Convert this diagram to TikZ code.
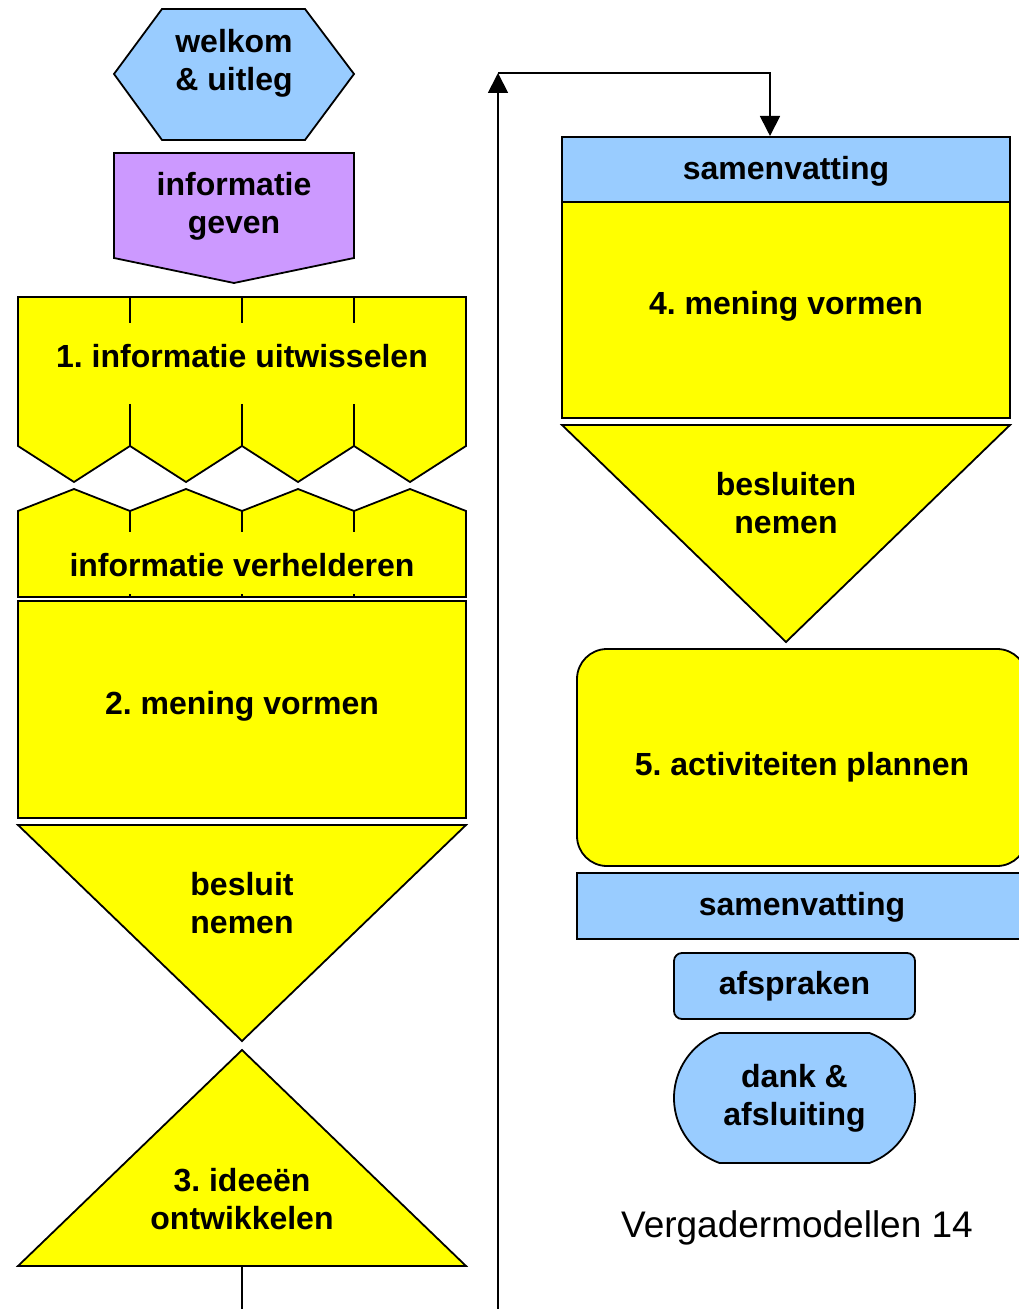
\documentclass[tikz,border=0pt]{standalone}
\usepackage{fontspec}
\setmainfont{Liberation Sans}
\frenchspacing
\usetikzlibrary{shapes.misc,arrows.meta}
\definecolor{myyellow}{HTML}{FFFF00}
\definecolor{myblue}{HTML}{99CCFF}
\definecolor{mypurple}{HTML}{CC99FF}
\tikzset{%
  stepshape/.style={draw, line width=0.9pt, line join=miter},%
  steplabel/.style={align=center, inner sep=0pt, font=\fontsize{16pt}{19pt}\selectfont\bfseries},%
  looparrow/.style={line width=0.9pt, -{Triangle[width=10pt,length=10pt]}},%
}

\begin{document}
\begin{tikzpicture}[x=0.5pt, y=-0.5pt]%
\useasboundingbox (0,0) rectangle (1018,1309);%
% left column
\draw[stepshape, fill=myblue] (162,9) -- (305,9) -- (354,74) -- (305,140) -- (162,140) -- (114,74) -- cycle;%
\node[steplabel] (welkom) at (234,63) {welkom\\\& uitleg};%
\draw[stepshape, fill=mypurple] (114,153) -- (354,153) -- (354,258) -- (234,283) -- (114,258) -- cycle;%
\node[steplabel] (geven) at (234,206) {informatie\\geven};%
\draw[stepshape, fill=myyellow] (18,297) -- (466,297) -- (466,446) -- (410,482) -- (354,446) -- (298,482) -- (242,446) -- (186,482) -- (130,446) -- (74,482) -- (18,446) -- cycle;%
\draw[stepshape] (130,297) -- (130,323) (130,404) -- (130,446);%
\draw[stepshape] (242,297) -- (242,323) (242,404) -- (242,446);%
\draw[stepshape] (354,297) -- (354,323) (354,404) -- (354,446);%
\node[steplabel] (uitwisselen) at (242,356) {1. informatie uitwisselen};%
\draw[stepshape, fill=myyellow] (18,511) -- (74,489) -- (130,511) -- (186,489) -- (242,511) -- (298,489) -- (354,511) -- (410,489) -- (466,511) -- (466,597) -- (18,597) -- cycle;%
\draw[stepshape] (130,511) -- (130,532) (130,594) -- (130,597);%
\draw[stepshape] (242,511) -- (242,532) (242,594) -- (242,597);%
\draw[stepshape] (354,511) -- (354,532) (354,594) -- (354,597);%
\node[steplabel] (verhelderen) at (242,565) {informatie verhelderen};%
\draw[stepshape, fill=myyellow] (18,601) rectangle (466,818);%
\node[steplabel] (mening2) at (242,706) {2. mening vormen};%
\draw[stepshape, fill=myyellow] (18,825) -- (466,825) -- (242,1041) -- cycle;%
\node[steplabel] (besluit) at (242,903) {besluit\\nemen};%
\draw[stepshape, fill=myyellow] (242,1050) -- (466,1266) -- (18,1266) -- cycle;%
\node[steplabel] (ideeen) at (242,1199) {3. ideeën\\ontwikkelen};%
\coordinate (ideeenfoot) at (242,1266);%
\coordinate (leftfoot) at (242,1309);%
\draw[line width=0.9pt] (ideeenfoot) -- (leftfoot);%
% loop back
\coordinate (loopfoot) at (498,1309);%
\coordinate (loopcorner) at (498,73);%
\coordinate (loopend) at (770,136);%
\draw[looparrow] (loopfoot) -- (loopcorner);%
\draw[looparrow] (loopcorner) -| (loopend);%
% right column
\draw[stepshape, fill=myblue] (562,137) rectangle (1010,202);%
\node[steplabel] (samen1) at (786,171) {samenvatting};%
\draw[stepshape, fill=myyellow] (562,202) rectangle (1010,418);%
\node[steplabel] (mening4) at (786,306) {4. mening vormen};%
\draw[stepshape, fill=myyellow] (562,425) -- (1010,425) -- (786,642) -- cycle;%
\node[steplabel] (besluiten) at (786,503) {besluiten\\nemen};%
\draw[stepshape, fill=myyellow, rounded corners=15pt] (577,649) rectangle (1027,866);%
\node[steplabel] (plannen) at (802,767) {5. activiteiten plannen};%
\draw[stepshape, fill=myblue] (577,873) rectangle (1027,939);%
\node[steplabel] (samen2) at (802,907) {samenvatting};%
\node[stepshape, fill=myblue, rounded corners=4pt, minimum width=120.5pt, minimum height=33pt, steplabel] (afspraken) at (794.5,986) {afspraken};%
\node[stepshape, fill=myblue, rounded rectangle, rounded rectangle arc length=140, minimum width=120.5pt, minimum height=65pt, steplabel] (dank) at (794.5,1098) {dank \&\\afsluiting};%
\node[font=\fontsize{18.5pt}{22pt}\selectfont] (footer) at (797,1228) {Vergadermodellen 14};%
\end{tikzpicture}
\end{document}
